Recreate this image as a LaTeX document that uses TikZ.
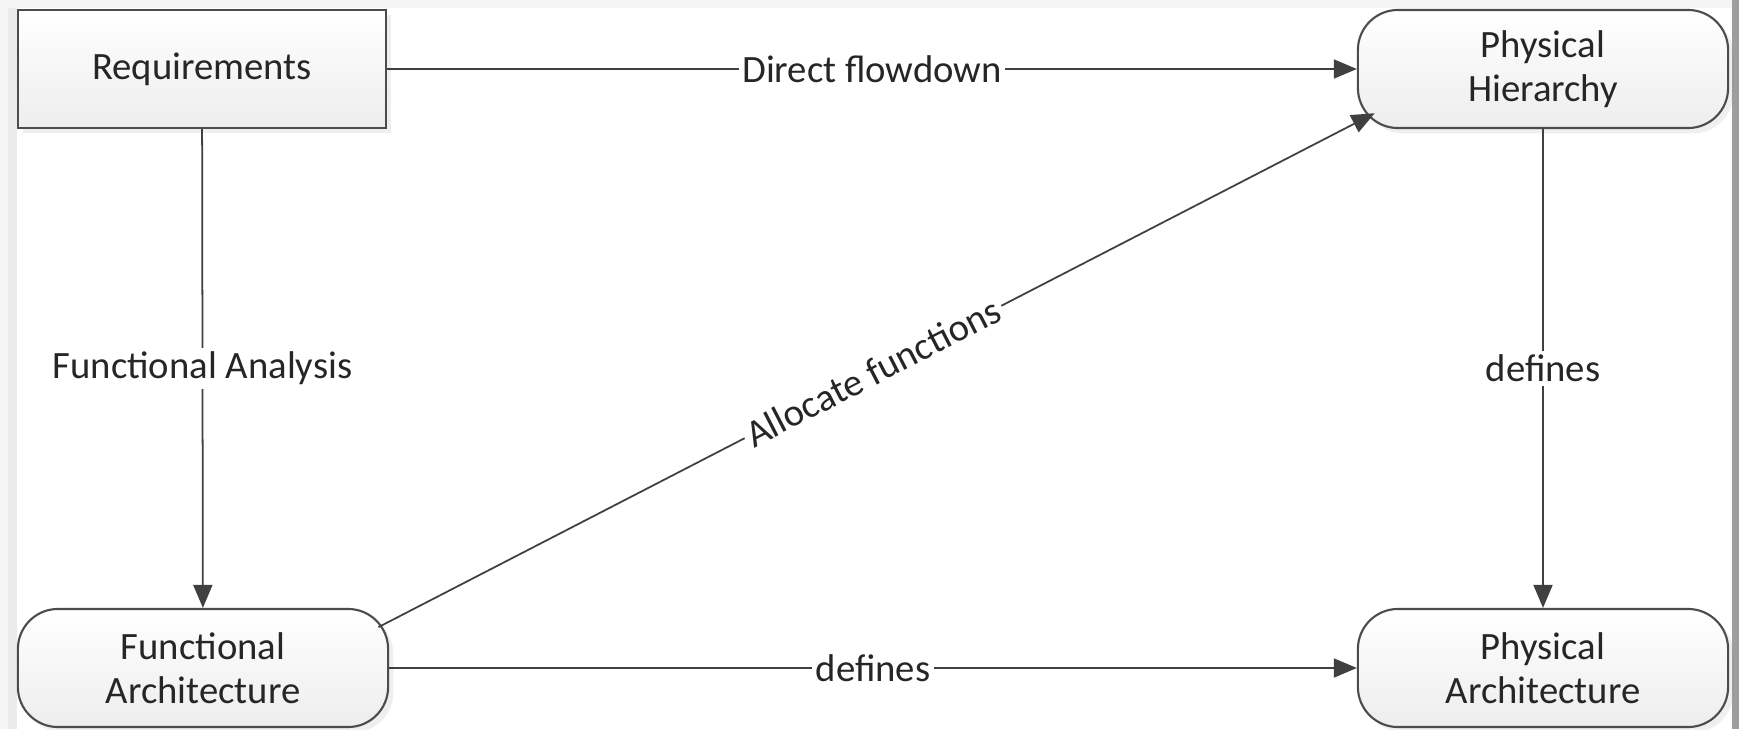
\documentclass[tikz,border=0pt]{standalone}
\usepackage{fontspec}
\setmainfont{Carlito}
\usetikzlibrary{arrows.meta,shadows}

\begin{document}
\begin{tikzpicture}[x=0.01cm,y=0.01cm,font=\fontsize{11}{12.5}\selectfont,
  blk/.style={draw=black!70,line width=0.6pt,top color=white,bottom color=black!7,text=black!85,align=center,minimum width=3.7cm,minimum height=1.18cm,inner sep=0pt,drop shadow={opacity=0.12,shadow xshift=1.5pt,shadow yshift=-1.5pt}},
  rblk/.style={blk,rounded corners=0.4cm},
  flow/.style={draw=black!75,line width=0.5pt,-{Triangle[length=2.3mm,width=1.9mm]}},
  lbl/.style={fill=white,inner sep=1pt,text=black!85}]
\useasboundingbox (0,0) rectangle (1739,729);
\fill[black!4] (0,0) rectangle (1739,729);
\fill[black!8] (8,0) rectangle (17,721);
\fill[white] (17,0) rectangle (1732,721);
\fill[black!38] (1732,0) rectangle (1739,729);
\node[blk,minimum width=3.68cm] (req) at (202,660) {Requirements};
\node[rblk] (phier) at (1543,660) {Physical\\Hierarchy};
\node[rblk] (farch) at (203,61) {Functional\\Architecture};
\node[rblk] (parch) at (1543,61) {Physical\\Architecture};
\draw[flow] (req) -- node[lbl] {Direct flowdown} (phier);
\draw[flow] (req) -- node[lbl] {Functional Analysis} (farch);
\draw[flow] (phier) -- node[lbl] {defines} (parch);
\draw[flow] (farch) -- node[lbl] {defines} (parch);
\draw[flow,shorten <=-1.2mm,shorten >=-2mm] (farch.14) -- node[lbl,sloped] {Allocate functions} (phier.196);
\end{tikzpicture}
\end{document}
